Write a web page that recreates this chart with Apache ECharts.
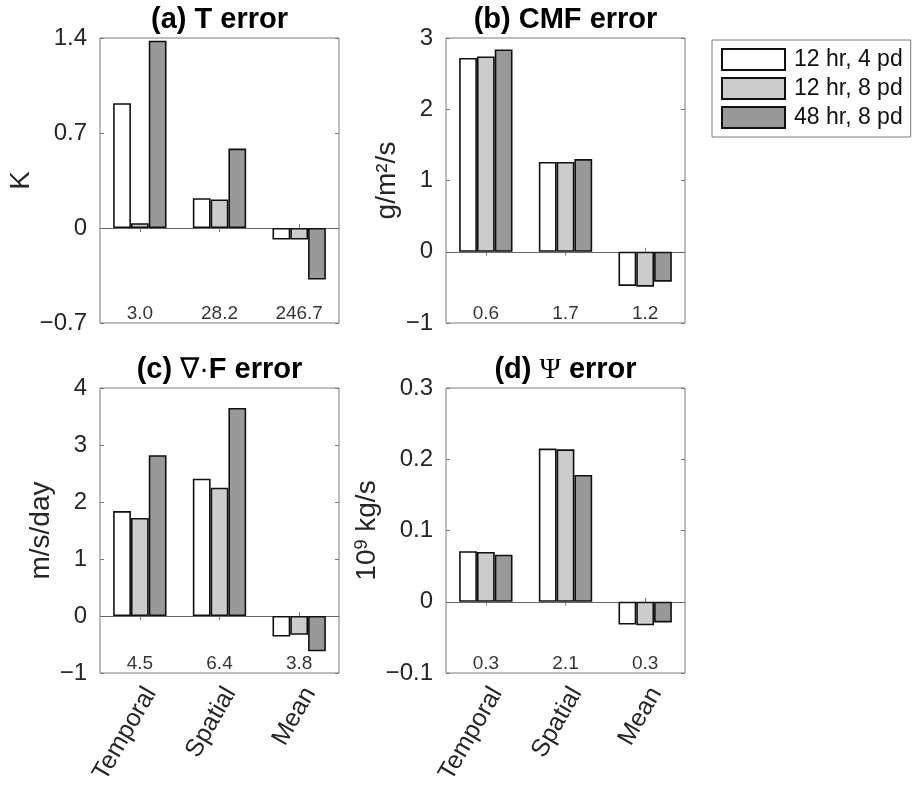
<!DOCTYPE html>
<html>
<head>
<meta charset="utf-8">
<script src="https://cdn.jsdelivr.net/npm/echarts@6/dist/echarts.min.js"></script>
<style>html,body{margin:0;padding:0;background:#fff;}#c{width:912px;height:789px;}</style>
</head>
<body>
<div id="c"></div>
<script>
const categories = ['Temporal', 'Spatial', 'Mean'];
const seriesNames = ['12 hr, 4 pd', '12 hr, 8 pd', '48 hr, 8 pd'];

// (a) T error
const tWhite = [0.92, 0.22, -0.085];
const tLight = [0.035, 0.21, -0.085];
const tDark  = [1.38, 0.585, -0.38];
const tNotes = ['3.0', '28.2', '246.7'];
const tTicks = [-0.7, 1.4, 0.7];
// (b) CMF error
const cmfWhite = [2.72, 1.26, -0.48];
const cmfLight = [2.74, 1.26, -0.49];
const cmfDark  = [2.84, 1.30, -0.42];
const cmfNotes = ['0.6', '1.7', '1.2'];
const cmfTicks = [-1, 3, 1];
// (c) div F error
const fWhite = [1.84, 2.41, -0.36];
const fLight = [1.72, 2.25, -0.33];
const fDark  = [2.82, 3.65, -0.62];
const fNotes = ['4.5', '6.4', '3.8'];
const fTicks = [-1, 4, 1];
// (d) Psi error
const pWhite = [0.071, 0.215, -0.032];
const pLight = [0.070, 0.214, -0.033];
const pDark  = [0.066, 0.178, -0.029];
const pNotes = ['0.3', '2.1', '0.3'];
const pTicks = [-0.1, 0.3, 0.1];

const FONT = 'Liberation Sans, Arial, Helvetica, sans-serif';
const SERIF = 'Liberation Serif, DejaVu Serif, serif';
const colors = ['#ffffff', '#cccccc', '#999999'];
const FRAME = '#7a7a7a';

const panels = [
  {grid: {left: 100, top: 38, width: 239, height: 285}, title: '{b|(a) T error}', unit: 'K', gap: 64,
   values: [tWhite, tLight, tDark], notes: tNotes, ticks: tTicks, showCats: false},
  {grid: {left: 446, top: 38, width: 239, height: 285}, title: '{b|(b) CMF error}', unit: 'g/m²/s', gap: 40,
   values: [cmfWhite, cmfLight, cmfDark], notes: cmfNotes, ticks: cmfTicks, showCats: false},
  {grid: {left: 100, top: 388, width: 239, height: 285}, title: '{b|(c) }{n|∇·}{b|F error}', unit: 'm/s/day', gap: 44,
   values: [fWhite, fLight, fDark], notes: fNotes, ticks: fTicks, showCats: true},
  {grid: {left: 446, top: 388, width: 239, height: 285}, title: '{b|(d) }{s|Ψ}{b| error}', unit: '10{sup|9} kg/s', gap: 58,
   values: [pWhite, pLight, pDark], notes: pNotes, ticks: pTicks, showCats: true}
];

const grid = [], xAxis = [], yAxis = [], series = [], graphic = [];
const fmt = v => { const s = String(+v.toFixed(3)); return s.charAt(0) === '-' ? '\u2212' + s.slice(1) : s; };
const titleRich = {
  b: {fontSize: 29, fontWeight: 'bold', fontFamily: FONT, fill: '#000', color: '#000'},
  n: {fontSize: 29, fontWeight: 'normal', fontFamily: FONT, fill: '#000', color: '#000'},
  s: {fontSize: 29, fontWeight: 'normal', fontFamily: SERIF, fill: '#000', color: '#000'}
};

panels.forEach((p, gi) => {
  grid.push(Object.assign({show: true, borderColor: FRAME, borderWidth: 1, containLabel: false}, p.grid));
  const [mn, mx, iv] = p.ticks;
  xAxis.push({
    type: 'category', gridIndex: gi, data: categories, position: 'bottom',
    axisLine: {show: false},
    axisTick: {show: true, inside: true, length: 4, alignWithLabel: true, lineStyle: {color: FRAME}},
    axisLabel: {show: p.showCats, rotate: 60, fontSize: 25, fontFamily: FONT, color: '#262626',
      margin: 10, align: 'right', verticalAlign: 'top'}
  });
  xAxis.push({
    type: 'category', gridIndex: gi, data: categories, position: 'top',
    axisLine: {show: false},
    axisTick: {show: true, inside: true, length: 4, alignWithLabel: true, lineStyle: {color: FRAME}},
    axisLabel: {show: false}
  });
  yAxis.push({
    type: 'value', gridIndex: gi, min: mn, max: mx, interval: iv, position: 'left',
    splitLine: {show: false}, axisLine: {show: false},
    axisTick: {show: true, inside: true, length: 4, lineStyle: {color: FRAME}},
    axisLabel: {fontSize: 24, fontFamily: FONT, color: '#262626', margin: 13, formatter: fmt},
    name: p.unit, nameLocation: 'middle', nameRotate: 90, nameGap: p.gap,
    nameTextStyle: {fontSize: 28, fontFamily: FONT, color: '#262626',
      rich: {sup: {fontSize: 18, fontFamily: FONT, color: '#262626', verticalAlign: 'top', padding: [0, 0, 12, 0]}}}
  });
  yAxis.push({
    type: 'value', gridIndex: gi, min: mn, max: mx, interval: iv, position: 'right',
    splitLine: {show: false}, axisLine: {show: false},
    axisTick: {show: true, inside: true, length: 4, lineStyle: {color: FRAME}},
    axisLabel: {show: false}
  });
  p.values.forEach((vals, si) => {
    const s = {
      type: 'bar', name: seriesNames[si], xAxisIndex: gi * 2, yAxisIndex: gi * 2,
      data: vals, barGap: '0%', barCategoryGap: '33%',
      itemStyle: {color: colors[si], borderColor: '#111', borderWidth: 1.6},
      emphasis: {disabled: true}
    };
    if (si === 0) {
      s.markLine = {
        silent: true, symbol: ['none', 'none'], z: 1,
        label: {show: false},
        lineStyle: {color: '#666', width: 1, type: 'solid'},
        data: [{yAxis: 0}]
      };
    }
    series.push(s);
  });
  series.push({
    type: 'scatter', xAxisIndex: gi * 2, yAxisIndex: gi * 2, symbolSize: 0, z: 5,
    data: categories.map((c, i) => [i, mn]),
    label: {show: true, position: 'top', distance: 0, fontSize: 19, fontFamily: FONT, color: '#000',
      formatter: q => p.notes[q.dataIndex]},
    silent: true
  });
  graphic.push({
    type: 'text', silent: true,
    x: p.grid.left + p.grid.width / 2, y: p.grid.top - 18,
    style: {text: p.title, rich: titleRich, align: 'center', verticalAlign: 'middle',
      textAlign: 'center', textVerticalAlign: 'middle', fontSize: 29, fontFamily: FONT, fill: '#000'}
  });
});

const chart = echarts.init(document.getElementById('c'), null, {renderer: 'canvas'});
chart.setOption({
  animation: false,
  backgroundColor: '#fff',
  grid, xAxis, yAxis, series, graphic,
  legend: {
    data: seriesNames, orient: 'vertical', left: 712, top: 40,
    icon: 'rect', itemWidth: 63, itemHeight: 21, itemGap: 6,
    padding: [8, 8, 8, 9], borderColor: FRAME, borderWidth: 1,
    selectedMode: false,
    textStyle: {fontSize: 23, fontFamily: FONT, color: '#111', padding: [0, 0, 0, 4]}
  }
});
</script>
</body>
</html>
